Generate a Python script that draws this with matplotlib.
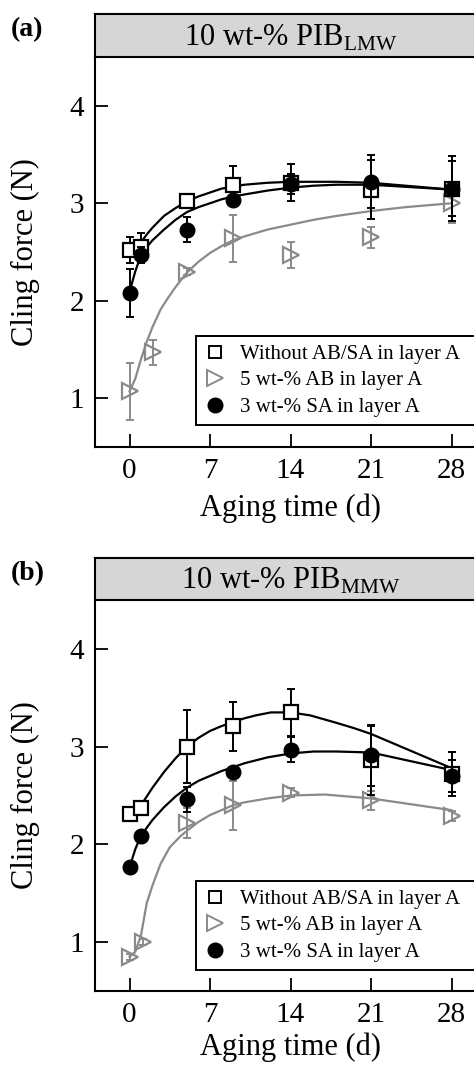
import matplotlib.pyplot as plt
from matplotlib.lines import Line2D

plt.rcParams['font.family'] = ['Liberation Serif', 'DejaVu Serif']
plt.rcParams['mathtext.fontset'] = 'custom'
plt.rcParams['mathtext.rm'] = 'Liberation Serif'

GRAY = '#8a8a8a'

# ---- panel (a): 10 wt-% PIB LMW ----
a_x_sq = [0, 1, 5, 9, 14, 21, 28]
a_y_sq = [2.52, 2.55, 3.02, 3.19, 3.21, 3.14, 3.15]
a_e_sq = [0.13, 0.15, 0.05, 0.19, 0.19, 0.30, 0.33]

a_x_ab = [0, 2, 5, 9, 14, 21, 28]
a_y_ab = [1.07, 1.47, 2.30, 2.64, 2.47, 2.65, 3.00]
a_e_ab = [0.29, 0.13, 0.04, 0.24, 0.13, 0.11, 0.20]

a_x_sa = [0, 1, 5, 9, 14, 21, 28]
a_y_sa = [2.08, 2.47, 2.73, 3.03, 3.20, 3.22, 3.15]
a_e_sa = [0.25, 0.08, 0.13, 0.05, 0.10, 0.27, 0.28]

# fitted curves, values
a_fx_sq = [0.5, 1, 1.5, 2, 3, 4, 5, 6, 7, 8, 9, 10, 12, 14, 16, 18, 21, 28]
a_fy_sq = [2.52, 2.60, 2.68, 2.75, 2.87, 2.95, 3.02, 3.07, 3.11, 3.15, 3.17, 3.19,
           3.21, 3.22, 3.22, 3.22, 3.21, 3.14]
a_fx_sa = [0, 0.5, 1, 1.5, 2, 3, 4, 5, 6, 7, 8, 9, 10, 12, 14, 16, 18, 21, 28]
a_fy_sa = [2.09, 2.30, 2.47, 2.55, 2.62, 2.73, 2.83, 2.91, 2.96, 3.00, 3.04, 3.07,
           3.09, 3.13, 3.16, 3.18, 3.19, 3.19, 3.14]
a_fx_ab = [0, 0.5, 1, 1.5, 2, 2.7, 3.3, 4, 5, 6, 7, 8, 9, 10, 12, 14, 16, 18, 21, 24, 28]
a_fy_ab = [1.07, 1.20, 1.40, 1.58, 1.73, 1.91, 2.02, 2.14, 2.29, 2.40, 2.49, 2.56,
           2.62, 2.66, 2.73, 2.78, 2.83, 2.87, 2.92, 2.96, 3.00]

# ---- panel (b): 10 wt-% PIB MMW ----
b_x_sq = [0, 1, 5, 9, 14, 21, 28]
b_y_sq = [2.31, 2.37, 3.00, 3.21, 3.35, 2.86, 2.72]
b_e_sq = [0.05, 0.05, 0.37, 0.25, 0.24, 0.35, 0.22]

b_x_ab = [0, 1.2, 5, 9, 14, 21, 28]
b_y_ab = [0.85, 1.00, 2.22, 2.40, 2.53, 2.45, 2.29]
b_e_ab = [0.03, 0.03, 0.15, 0.25, 0.05, 0.10, 0.05]

b_x_sa = [0, 1, 5, 9, 14, 21, 28]
b_y_sa = [1.77, 2.09, 2.46, 2.74, 2.97, 2.91, 2.70]
b_e_sa = [0.05, 0.04, 0.13, 0.05, 0.13, 0.31, 0.16]

b_fx_sq = [0.7, 1, 1.5, 2, 3, 4, 5, 6, 7, 8, 9, 10, 11, 12.3, 14, 15.7, 17.8, 19.5, 21, 28]
b_fy_sq = [2.33, 2.40, 2.49, 2.58, 2.74, 2.88, 3.00, 3.09, 3.16, 3.21, 3.25, 3.29,
           3.32, 3.35, 3.35, 3.32, 3.25, 3.19, 3.13, 2.78]
b_fx_sa = [0.1, 0.5, 1, 1.5, 2, 3, 4, 5, 6, 7, 8, 9, 10, 12, 14, 16, 18, 21, 28]
b_fy_sa = [1.80, 1.95, 2.09, 2.17, 2.25, 2.38, 2.49, 2.58, 2.65, 2.70, 2.75, 2.79,
           2.83, 2.89, 2.93, 2.95, 2.95, 2.94, 2.76]
b_fx_ab = [0, 0.5, 1, 1.5, 2, 2.7, 3.5, 4.4, 5, 6, 7, 8, 9, 10, 12, 14, 17, 21, 28]
b_fy_ab = [0.85, 0.90, 1.07, 1.40, 1.58, 1.80, 1.97, 2.08, 2.14, 2.23, 2.30, 2.35,
           2.40, 2.43, 2.47, 2.50, 2.51, 2.47, 2.35]

legend_labels = ['Without AB/SA in layer A', '5 wt-% AB in layer A', '3 wt-% SA in layer A']
x_ticks = [0, 7, 14, 21, 28]
y_ticks = [1, 2, 3, 4]

W = 474.0
H = 1072.0
fig = plt.figure(figsize=(W / 100, H / 100), dpi=100)


def draw_panel(rect, strip_rect, tag, strip_text, data, fits, leg_top, xlab_y):
    ax = fig.add_axes(rect)
    (xs, ys, es), (xa, ya, ea), (xc, yc, ec) = data
    (fxs, fys), (fxa, fya), (fxc, fyc) = fits
    ax.plot(fxa, fya, color=GRAY, lw=1.6, zorder=2)
    ax.plot(fxs, fys, color='black', lw=1.6, zorder=3)
    ax.plot(fxc, fyc, color='black', lw=1.6, zorder=3)
    ax.errorbar(xa, ya, yerr=ea, fmt='none', ecolor=GRAY, elinewidth=1.4,
                capsize=3.2, capthick=1.4, zorder=2)
    ax.plot(xa, ya, ls='none', marker='>', ms=11, mfc='none', mec=GRAY, mew=1.6, zorder=4)
    ax.errorbar(xs, ys, yerr=es, fmt='none', ecolor='black', elinewidth=1.4,
                capsize=3.2, capthick=1.4, zorder=4)
    ax.plot(xs, ys, ls='none', marker='s', ms=9.5, mfc='white', mec='black', mew=1.6, zorder=5)
    ax.errorbar(xc, yc, yerr=ec, fmt='none', ecolor='black', elinewidth=1.4,
                capsize=3.2, capthick=1.4, zorder=5)
    ax.plot(xc, yc, ls='none', marker='o', ms=10.5, mfc='black', mec='black', zorder=6)

    ax.set_xlim(-3, 31)
    ax.set_ylim(0.5, 4.5)
    ax.set_xticks(x_ticks)
    ax.set_yticks(y_ticks)
    ax.tick_params(direction='in', length=9.5, width=1.3, labelsize=21, pad=8)
    for s in ['top', 'right']:
        ax.spines[s].set_visible(False)
    for s in ['left', 'bottom']:
        ax.spines[s].set_linewidth(1.5)
    ax.set_ylabel('Cling force (N)', fontsize=22)
    ax.yaxis.set_label_coords(-0.14, 0.5)
    ax.set_xlabel('Aging time (d)', fontsize=22)
    ax.xaxis.set_label_coords(0.5, xlab_y)

    handles = [
        Line2D([], [], ls='none', marker='s', ms=8.5, mfc='white', mec='black', mew=1.4),
        Line2D([], [], ls='none', marker='>', ms=11, mfc='none', mec=GRAY, mew=1.4),
        Line2D([], [], ls='none', marker='o', ms=10.5, mfc='black', mec='black'),
    ]
    x0 = 196 / W
    h = 87 / H
    leg = ax.legend(handles, legend_labels, loc='upper left',
                    bbox_to_anchor=(x0, leg_top - h, 300 / W, h),
                    bbox_transform=fig.transFigure, mode='expand', fontsize=15,
                    frameon=True, fancybox=False, framealpha=1, edgecolor='black',
                    handlelength=1.0, handletextpad=0.7, borderpad=0.4,
                    labelspacing=0.33, borderaxespad=0)
    leg.get_frame().set_linewidth(1.4)
    leg.set_zorder(10)

    st = fig.add_axes(strip_rect)
    st.set_facecolor('#d6d6d6')
    st.set_xticks([])
    st.set_yticks([])
    for s in st.spines.values():
        s.set_linewidth(1.5)
    st.text(0.5, 0.45, strip_text, ha='center', va='center', fontsize=22,
            transform=st.transAxes)
    fig.text(0.058, strip_rect[1] + strip_rect[3] - 0.015, tag, fontsize=20,
             fontweight='bold', ha='center', va='center')
    return ax


left = 95 / W
width = (486 - 95) / W

draw_panel([left, 1 - 447 / H, width, (447 - 57) / H],
           [left, 1 - 57 / H, width, (57 - 14) / H],
           '(a)', r'10 wt-% PIB$_{\mathrm{LMW}}$',
           [(a_x_sq, a_y_sq, a_e_sq), (a_x_ab, a_y_ab, a_e_ab), (a_x_sa, a_y_sa, a_e_sa)],
           [(a_fx_sq, a_fy_sq), (a_fx_ab, a_fy_ab), (a_fx_sa, a_fy_sa)],
           1 - 336 / H, -0.118)

draw_panel([left, 1 - 991 / H, width, (991 - 600) / H],
           [left, 1 - 600 / H, width, (600 - 558) / H],
           '(b)', r'10 wt-% PIB$_{\mathrm{MMW}}$',
           [(b_x_sq, b_y_sq, b_e_sq), (b_x_ab, b_y_ab, b_e_ab), (b_x_sa, b_y_sa, b_e_sa)],
           [(b_fx_sq, b_fy_sq), (b_fx_ab, b_fy_ab), (b_fx_sa, b_fy_sa)],
           1 - 881 / H, -0.107)

fig.savefig('out.png', dpi=100)
